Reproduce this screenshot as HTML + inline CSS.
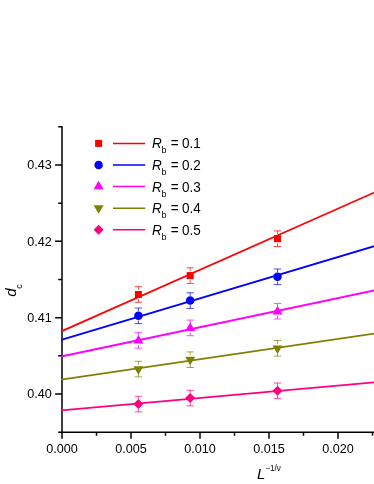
<!DOCTYPE html>
<html><head><meta charset="utf-8"><title>chart</title>
<style>html,body{margin:0;padding:0;background:#fff;}svg{display:block;will-change:transform;}text{font-family:"Liberation Sans",sans-serif;fill:#000;}</style></head><body>
<svg width="374" height="484" viewBox="0 0 374 484">
<rect width="374" height="484" fill="#fff"/>
<path d="M62.0,126.08V432.92M61.25,432.17H374" stroke="#000" stroke-width="1.5" fill="none"/>
<path d="M62.0,432.17H58.20M62.0,394.00H55.10M62.0,355.83H58.20M62.0,317.67H55.10M62.0,279.50H58.20M62.0,241.34H55.10M62.0,203.17H58.20M62.0,165.01H55.10M62.0,126.85H58.20M62.00,432.17V438.77M96.50,432.17V435.77M131.00,432.17V438.77M165.50,432.17V435.77M200.00,432.17V438.77M234.50,432.17V435.77M269.00,432.17V438.77M303.50,432.17V435.77M338.00,432.17V438.77M372.50,432.17V435.77" stroke="#000" stroke-width="1.5" fill="none"/>
<path d="M138.40,286.70V289.90M138.40,299.10V302.30M134.70,286.70H142.10M134.70,302.30H142.10" stroke="#ff0000" stroke-width="1" stroke-opacity="0.7" fill="none"/>
<path d="M190.20,267.80V271.00M190.20,280.20V283.40M186.50,267.80H193.90M186.50,283.40H193.90" stroke="#ff0000" stroke-width="1" stroke-opacity="0.7" fill="none"/>
<path d="M277.50,230.90V234.10M277.50,243.30V246.50M273.80,230.90H281.20M273.80,246.50H281.20" stroke="#ff0000" stroke-width="1" stroke-opacity="0.7" fill="none"/>
<path d="M138.40,308.00V311.20M138.40,320.40V323.60M134.70,308.00H142.10M134.70,323.60H142.10" stroke="#0000ff" stroke-width="1" stroke-opacity="0.7" fill="none"/>
<path d="M190.20,292.80V296.00M190.20,305.20V308.40M186.50,292.80H193.90M186.50,308.40H193.90" stroke="#0000ff" stroke-width="1" stroke-opacity="0.7" fill="none"/>
<path d="M277.50,269.00V272.20M277.50,281.40V284.60M273.80,269.00H281.20M273.80,284.60H281.20" stroke="#0000ff" stroke-width="1" stroke-opacity="0.7" fill="none"/>
<path d="M138.40,332.60V335.80M138.40,345.00V348.20M134.70,332.60H142.10M134.70,348.20H142.10" stroke="#ff00ff" stroke-width="1" stroke-opacity="0.7" fill="none"/>
<path d="M190.20,320.10V323.30M190.20,332.50V335.70M186.50,320.10H193.90M186.50,335.70H193.90" stroke="#ff00ff" stroke-width="1" stroke-opacity="0.7" fill="none"/>
<path d="M277.50,303.40V306.60M277.50,315.80V319.00M273.80,303.40H281.20M273.80,319.00H281.20" stroke="#ff00ff" stroke-width="1" stroke-opacity="0.7" fill="none"/>
<path d="M138.40,361.25V364.45M138.40,373.65V376.85M134.70,361.25H142.10M134.70,376.85H142.10" stroke="#808000" stroke-width="1" stroke-opacity="0.7" fill="none"/>
<path d="M190.20,351.90V355.10M190.20,364.30V367.50M186.50,351.90H193.90M186.50,367.50H193.90" stroke="#808000" stroke-width="1" stroke-opacity="0.7" fill="none"/>
<path d="M277.50,340.50V343.70M277.50,352.90V356.10M273.80,340.50H281.20M273.80,356.10H281.20" stroke="#808000" stroke-width="1" stroke-opacity="0.7" fill="none"/>
<path d="M138.40,396.30V399.50M138.40,408.70V411.90M134.70,396.30H142.10M134.70,411.90H142.10" stroke="#ff0080" stroke-width="1" stroke-opacity="0.7" fill="none"/>
<path d="M190.20,390.30V393.50M190.20,402.70V405.90M186.50,390.30H193.90M186.50,405.90H193.90" stroke="#ff0080" stroke-width="1" stroke-opacity="0.7" fill="none"/>
<path d="M277.50,383.00V386.20M277.50,395.40V398.60M273.80,383.00H281.20M273.80,398.60H281.20" stroke="#ff0080" stroke-width="1" stroke-opacity="0.7" fill="none"/>
<line x1="61.25" y1="331.40000000000003" x2="374.5" y2="192.4" stroke="#ff0000" stroke-width="1.8"/>
<line x1="61.25" y1="339.90000000000003" x2="374.5" y2="246.1" stroke="#0000ff" stroke-width="1.8"/>
<line x1="61.25" y1="356.5" x2="374.5" y2="290.4" stroke="#ff00ff" stroke-width="1.8"/>
<line x1="61.25" y1="379.6" x2="374.5" y2="333.6" stroke="#808000" stroke-width="1.8"/>
<line x1="61.25" y1="410.40000000000003" x2="374.5" y2="382.4" stroke="#ff0080" stroke-width="1.8"/>
<rect x="134.90" y="291.00" width="7.00" height="7.00" fill="#ff0000"/>
<rect x="186.70" y="272.10" width="7.00" height="7.00" fill="#ff0000"/>
<rect x="274.00" y="235.20" width="7.00" height="7.00" fill="#ff0000"/>
<circle cx="138.40" cy="315.80" r="4.25" fill="#0000ff"/>
<circle cx="190.20" cy="300.60" r="4.25" fill="#0000ff"/>
<circle cx="277.50" cy="276.80" r="4.25" fill="#0000ff"/>
<polygon points="138.40,335.00 133.40,343.60 143.40,343.60" fill="#ff00ff"/>
<polygon points="190.20,322.50 185.20,331.10 195.20,331.10" fill="#ff00ff"/>
<polygon points="277.50,305.80 272.50,314.40 282.50,314.40" fill="#ff00ff"/>
<polygon points="138.40,374.70 133.40,366.20 143.40,366.20" fill="#808000"/>
<polygon points="190.20,365.35 185.20,356.85 195.20,356.85" fill="#808000"/>
<polygon points="277.50,353.95 272.50,345.45 282.50,345.45" fill="#808000"/>
<polygon points="138.40,399.10 143.40,404.10 138.40,409.10 133.40,404.10" fill="#ff0080"/>
<polygon points="190.20,393.10 195.20,398.10 190.20,403.10 185.20,398.10" fill="#ff0080"/>
<polygon points="277.50,385.80 282.50,390.80 277.50,395.80 272.50,390.80" fill="#ff0080"/>
<text x="51.8" y="398.25" font-size="12.6" text-anchor="end">0.40</text>
<text x="51.8" y="321.92" font-size="12.6" text-anchor="end">0.41</text>
<text x="51.8" y="245.59" font-size="12.6" text-anchor="end">0.42</text>
<text x="51.8" y="169.26" font-size="12.6" text-anchor="end">0.43</text>
<text x="62.00" y="452.5" font-size="12.6" text-anchor="middle">0.000</text>
<text x="131.00" y="452.5" font-size="12.6" text-anchor="middle">0.005</text>
<text x="200.00" y="452.5" font-size="12.6" text-anchor="middle">0.010</text>
<text x="269.00" y="452.5" font-size="12.6" text-anchor="middle">0.015</text>
<text x="338.00" y="452.5" font-size="12.6" text-anchor="middle">0.020</text>
<text x="257.1" y="479.4" font-size="15" font-style="italic">L</text>
<text transform="translate(265.4,470.8) scale(0.9,1)" font-size="9">−1/ν</text>
<g transform="translate(16.0,296.7) rotate(-90)"><text x="0" y="0" font-size="15" font-style="italic">d</text><text x="8.0" y="5.8" font-size="9">c</text></g>
<rect x="95.10" y="139.90" width="7.00" height="7.00" fill="#ff0000"/>
<line x1="113.0" y1="143.4" x2="145.2" y2="143.4" stroke="#ff0000" stroke-width="1.5"/>
<text transform="translate(152.0,148.30) scale(0.965,1)" font-size="14" font-style="italic">R</text>
<text x="161.6" y="153.40" font-size="9">b</text>
<text transform="translate(170.7,148.30) scale(0.965,1)" font-size="14">=</text>
<text transform="translate(181.9,148.30) scale(0.965,1)" font-size="14">0.1</text>
<circle cx="98.60" cy="165.00" r="4.25" fill="#0000ff"/>
<line x1="113.0" y1="165.0" x2="145.2" y2="165.0" stroke="#0000ff" stroke-width="1.5"/>
<text transform="translate(152.0,169.90) scale(0.965,1)" font-size="14" font-style="italic">R</text>
<text x="161.6" y="175.00" font-size="9">b</text>
<text transform="translate(170.7,169.90) scale(0.965,1)" font-size="14">=</text>
<text transform="translate(181.9,169.90) scale(0.965,1)" font-size="14">0.2</text>
<polygon points="98.60,180.70 93.60,189.30 103.60,189.30" fill="#ff00ff"/>
<line x1="113.0" y1="186.6" x2="145.2" y2="186.6" stroke="#ff00ff" stroke-width="1.5"/>
<text transform="translate(152.0,191.50) scale(0.965,1)" font-size="14" font-style="italic">R</text>
<text x="161.6" y="196.60" font-size="9">b</text>
<text transform="translate(170.7,191.50) scale(0.965,1)" font-size="14">=</text>
<text transform="translate(181.9,191.50) scale(0.965,1)" font-size="14">0.3</text>
<polygon points="98.60,213.85 93.60,205.35 103.60,205.35" fill="#808000"/>
<line x1="113.0" y1="208.2" x2="145.2" y2="208.2" stroke="#808000" stroke-width="1.5"/>
<text transform="translate(152.0,213.10) scale(0.965,1)" font-size="14" font-style="italic">R</text>
<text x="161.6" y="218.20" font-size="9">b</text>
<text transform="translate(170.7,213.10) scale(0.965,1)" font-size="14">=</text>
<text transform="translate(181.9,213.10) scale(0.965,1)" font-size="14">0.4</text>
<polygon points="98.60,224.80 103.60,229.80 98.60,234.80 93.60,229.80" fill="#ff0080"/>
<line x1="113.0" y1="229.8" x2="145.2" y2="229.8" stroke="#ff0080" stroke-width="1.5"/>
<text transform="translate(152.0,234.70) scale(0.965,1)" font-size="14" font-style="italic">R</text>
<text x="161.6" y="239.80" font-size="9">b</text>
<text transform="translate(170.7,234.70) scale(0.965,1)" font-size="14">=</text>
<text transform="translate(181.9,234.70) scale(0.965,1)" font-size="14">0.5</text>
</svg></body></html>
